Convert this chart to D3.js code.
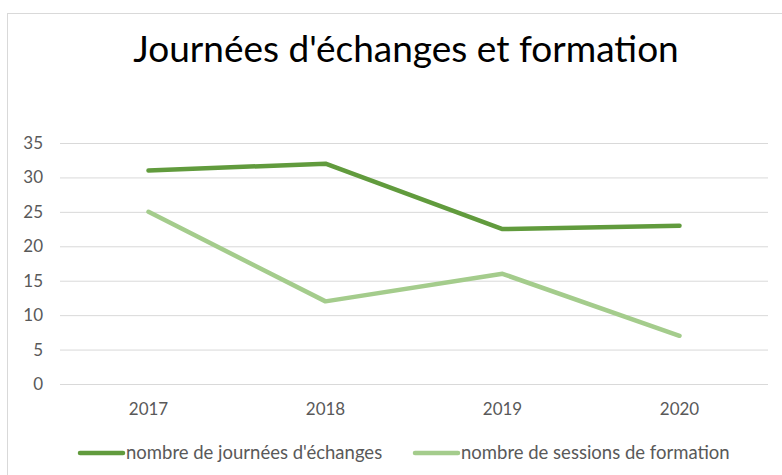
<!DOCTYPE html>
<html lang="fr">
<head>
<meta charset="utf-8">
<title>Journées d'échanges et formation</title>
<script src="https://cdnjs.cloudflare.com/ajax/libs/d3/7.8.5/d3.min.js"></script>
<style>
  body { margin: 0; background: #fff; }
  svg { display: block; }
  svg text { font-family: Lato, 'Open Sans', sans-serif; }
  .tick line { stroke: #d9d9d9; }
  .tick text { fill: #595959; font-size: 17px; }
  .domain { display: none; }
</style>
</head>
<body>
<svg></svg>
<script>
// data
var years = ["2017", "2018", "2019", "2020"];
var journees = [31, 32, 22.5, 23];
var sessions = [25, 12, 16, 7];
var yTicks = [0, 5, 10, 15, 20, 25, 30, 35];

var seriesNames = ["nombre de journées d'échanges", "nombre de sessions de formation"];
var seriesColors = ["#619b3d", "#a4cc8c"];

var width = 782, height = 475;
var plotLeft = 60, plotRight = 768, plotTop = 143, plotBottom = 384;

var svg = d3.select("svg").attr("width", width).attr("height", height);

// outer frame (only left and top edges are in the picture)
svg.append("rect")
    .attr("x", 7.5).attr("y", 13.5)
    .attr("width", 800).attr("height", 500)
    .attr("fill", "none")
    .attr("stroke", "#d9d9d9");

svg.append("text")
    .attr("x", 406)
    .attr("y", 62)
    .attr("text-anchor", "middle")
    .style("font-size", "37px")
    .style("fill", "#000")
    .text("Journées d'échanges et formation");

var x = d3.scaleBand().domain(years).range([plotLeft, plotRight]);
var y = d3.scaleLinear().domain([0, 35]).range([plotBottom, plotTop]);

var yAxis = d3.axisLeft(y)
    .tickValues(yTicks)
    .tickSize(-(plotRight - plotLeft))
    .tickPadding(17);

svg.append("g")
    .attr("transform", "translate(" + plotLeft + ",0)")
    .call(yAxis)
    .attr("font-family", null);

var xAxis = d3.axisBottom(x).tickSize(0);
svg.append("g")
    .attr("transform", "translate(0," + plotBottom + ")")
    .call(xAxis)
    .attr("font-family", null)
    .selectAll(".tick text")
      .attr("y", 31)
      .attr("dy", null);

var line = d3.line()
    .x(function(d, i) { return x(years[i]) + x.bandwidth() / 2; })
    .y(function(d) { return y(d); });

[journees, sessions].forEach(function(vals, i) {
  svg.append("path")
      .datum(vals)
      .attr("d", line)
      .attr("fill", "none")
      .attr("stroke", seriesColors[i])
      .attr("stroke-width", 4.5)
      .attr("stroke-linejoin", "round")
      .attr("stroke-linecap", "round");
});

// legend
var legendX = [80, 415];
var legend = svg.selectAll(".legend")
    .data(seriesNames)
    .enter().append("g")
    .attr("class", "legend")
    .attr("transform", function(d, i) { return "translate(" + legendX[i] + ",453)"; });

legend.append("line")
    .attr("x1", 0).attr("x2", 43)
    .attr("stroke", function(d, i) { return seriesColors[i]; })
    .attr("stroke-width", 4.5)
    .attr("stroke-linecap", "round");

legend.append("text")
    .attr("x", 46)
    .attr("dy", "0.35em")
    .style("font-size", "18.5px")
    .style("fill", "#595959")
    .text(function(d) { return d; });
</script>
</body>
</html>
